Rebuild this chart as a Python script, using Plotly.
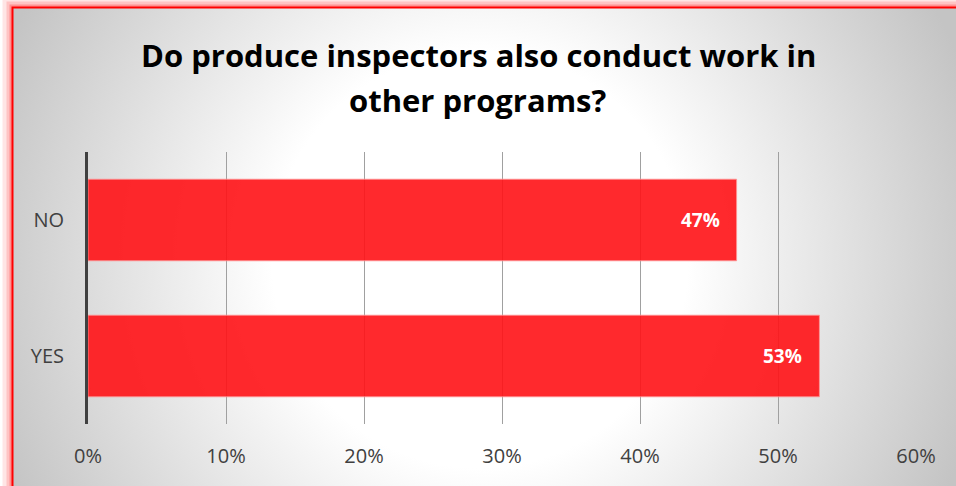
import base64
import plotly.graph_objects as go

# ---- data ----
categories = ["YES", "NO"]
values = [53, 47]
x_tick_vals = [0, 10, 20, 30, 40, 50, 60]
x_tick_text = ["0%", "10%", "20%", "30%", "40%", "50%", "60%"]
title_lines = ["Do produce inspectors also conduct work in", "other programs?"]

W, H = 956, 486
FONT = "Open Sans"

# background: radial gradient panel with red glowing border
svg = f'''<svg xmlns="http://www.w3.org/2000/svg" width="{W}" height="{H}" viewBox="0 0 {W} {H}">
<defs><radialGradient id="g" gradientUnits="userSpaceOnUse" cx="480" cy="260" r="520">
<stop offset="0" stop-color="#ffffff"/><stop offset="0.4" stop-color="#ffffff"/>
<stop offset="1" stop-color="#c4c4c4"/></radialGradient></defs>
<rect x="0" y="0" width="{W}" height="{H}" fill="#ffffff"/>
<rect x="12.5" y="7.5" width="1000" height="600" fill="none" stroke="#ff0000" stroke-opacity="0.10" stroke-width="20"/>
<rect x="12.5" y="7.5" width="1000" height="600" fill="none" stroke="#ff0000" stroke-opacity="0.15" stroke-width="12"/>
<rect x="12.5" y="7.5" width="1000" height="600" fill="none" stroke="#ff0000" stroke-opacity="0.25" stroke-width="6"/>
<rect x="13" y="8" width="1000" height="600" fill="url(#g)"/>
<rect x="12.5" y="7.5" width="1000" height="600" fill="none" stroke="#ff0000" stroke-width="2"/>
</svg>'''
src = "data:image/svg+xml;base64," + base64.b64encode(svg.encode()).decode()

fig = go.Figure()
fig.add_trace(go.Bar(
    y=categories, x=values, orientation="h", width=0.6,
    marker=dict(color="rgba(255,18,22,0.9)", line=dict(color="rgba(255,150,150,0.8)", width=1)),
    hoverinfo="skip",
))

annotations = []
for c, v in zip(categories, values):
    annotations.append(dict(
        x=v, y=c, xref="x", yref="y", text=f"<b>{v}%</b>", showarrow=False,
        xanchor="right", yanchor="middle", xshift=-15,
        font=dict(family=FONT, size=19, color="white"),
    ))
title_y = [55, 100]
for line, py in zip(title_lines, title_y):
    annotations.append(dict(
        x=0.5, y=1 - py / H, xref="paper", yref="paper", text=f"<b>{line}</b>",
        showarrow=False, xanchor="center", yanchor="middle",
        font=dict(family=FONT, size=31, color="#000000"),
    ))

x0, x1 = 88, 916
y0, y1 = 152, 424
fig.update_layout(
    template="none",
    width=W, height=H,
    margin=dict(l=0, r=0, t=0, b=0, pad=0, autoexpand=False),
    paper_bgcolor="white",
    plot_bgcolor="rgba(0,0,0,0)",
    showlegend=False,
    bargap=0.4,
    font=dict(family=FONT, color="#404040"),
    images=[dict(source=src, xref="paper", yref="paper", x=0, y=1, sizex=1, sizey=1,
                 xanchor="left", yanchor="top", sizing="stretch", layer="below")],
    annotations=annotations,
    xaxis=dict(
        domain=[x0 / W, x1 / W], range=[0, 60], automargin=False,
        tickvals=x_tick_vals, ticktext=x_tick_text,
        showgrid=True, gridcolor="#a0a0a0", gridwidth=1,
        zeroline=False, showline=False, ticks="",
        tickfont=dict(family=FONT, size=20, color="#404040"),
        ticklabelstandoff=18, fixedrange=True,
    ),
    yaxis=dict(
        domain=[1 - y1 / H, 1 - y0 / H], automargin=False,
        showgrid=False, zeroline=False,
        showline=True, linecolor="#404040", linewidth=3,
        ticks="", tickfont=dict(family=FONT, size=20, color="#404040"),
        ticklabelstandoff=17, fixedrange=True,
    ),
)

fig.write_html(
    "out.html",
    config={"displayModeBar": False},
    post_script="document.body.style.margin='0';document.body.style.overflow='hidden';",
)
